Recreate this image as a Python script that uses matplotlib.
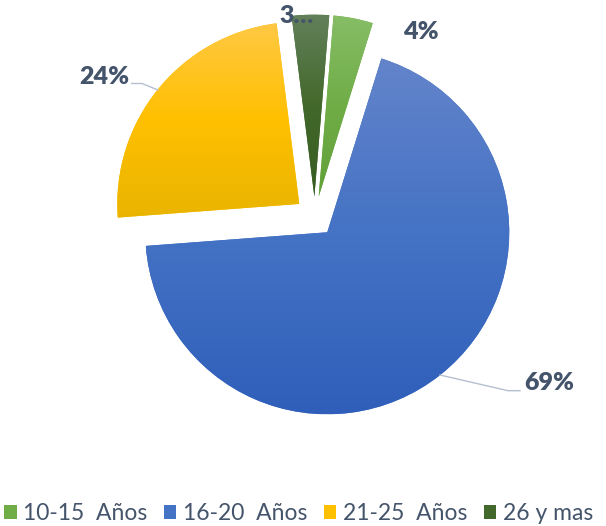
import numpy as np
import matplotlib
matplotlib.use("Agg")
import matplotlib.pyplot as plt
from matplotlib.patches import Patch
from matplotlib.lines import Line2D
from matplotlib.colors import to_rgb

# ---- data ----
categories = ["10-15  Años", "16-20  Años", "21-25  Años", "26 y mas"]
values = [3.5, 69.0, 24.2, 3.3]
value_labels = ["4%", "69%", "24%", "3…"]

# ---- style ----
top_colors = ["#86BD66", "#6384CB", "#FFC843", "#62805A"]
mid_colors = ["#70AD47", "#4472C4", "#FFC000", "#43682B"]
bot_colors = ["#62A03A", "#2F5FBA", "#E9B400", "#385C22"]
text_color = "#44546A"
leader_color = "#B4C0D0"

W, H = 606, 526
R_PX = 182.0
CX, CY = 314.8, 216.6  # pie centre in image pixels

plt.rcParams['font.family'] = ['Lato', 'DejaVu Sans']

fig = plt.figure(figsize=(W / 100, H / 100), dpi=100)
ax = fig.add_axes([0, 0, 1, 1])

wedges, _ = ax.pie(values, startangle=85.3, counterclock=False,
                   explode=[0.11] * len(values), radius=1.0, center=(0, 0),
                   colors=mid_colors, wedgeprops=dict(linewidth=0))

for w, c0, c1, c2 in zip(wedges, top_colors, mid_colors, bot_colors):
    ext = w.get_path().get_extents(w.get_patch_transform())
    n = 256
    t = np.linspace(0, 1, n)[:, None]
    a, b, c = np.array(to_rgb(c0)), np.array(to_rgb(c1)), np.array(to_rgb(c2))
    grad = np.where(t < 0.5, a + (b - a) * (t / 0.5), b + (c - b) * ((t - 0.5) / 0.5))
    img = grad[:, None, :]
    im = ax.imshow(img, extent=(ext.x0, ext.x1, ext.y0, ext.y1), origin='upper',
                   aspect='auto', interpolation='bilinear', zorder=2)
    im.set_clip_path(w)

ax.set_xlim(-CX / R_PX, (W - CX) / R_PX)
ax.set_ylim(-(H - CY) / R_PX, CY / R_PX)
ax.set_aspect('auto')
ax.axis('off')

# ---- data labels (positions in image pixels) ----
label_pos = [(421, 32), (549, 383), (104, 77), (297, 16)]
for (px, py), s in zip(label_pos, value_labels):
    fig.text(px / W, 1 - py / H, s, ha='center', va='center', fontsize=18,
             fontweight='heavy', color=text_color)

# leader lines
leaders = [
    [(131.7, 83.5), (142.0, 83.5), (158.0, 90.0)],
    [(440.0, 375.0), (508.0, 390.7), (520.0, 390.7)],
]
for pts in leaders:
    xs = [p[0] / W for p in pts]
    ys = [1 - p[1] / H for p in pts]
    fig.add_artist(Line2D(xs, ys, color=leader_color, lw=1.0))

# ---- legend ----
handles = [Patch(facecolor=c, edgecolor='none') for c in mid_colors]
fig.legend(handles, categories, loc='center left', bbox_to_anchor=(4 / W, 1 - 514 / H),
           ncol=4, frameon=False, borderpad=0, borderaxespad=0,
           handlelength=0.55, handleheight=0.55, handletextpad=0.28,
           columnspacing=0.72, fontsize=16.5, labelcolor=text_color)

fig.savefig("out.png", dpi=100)
